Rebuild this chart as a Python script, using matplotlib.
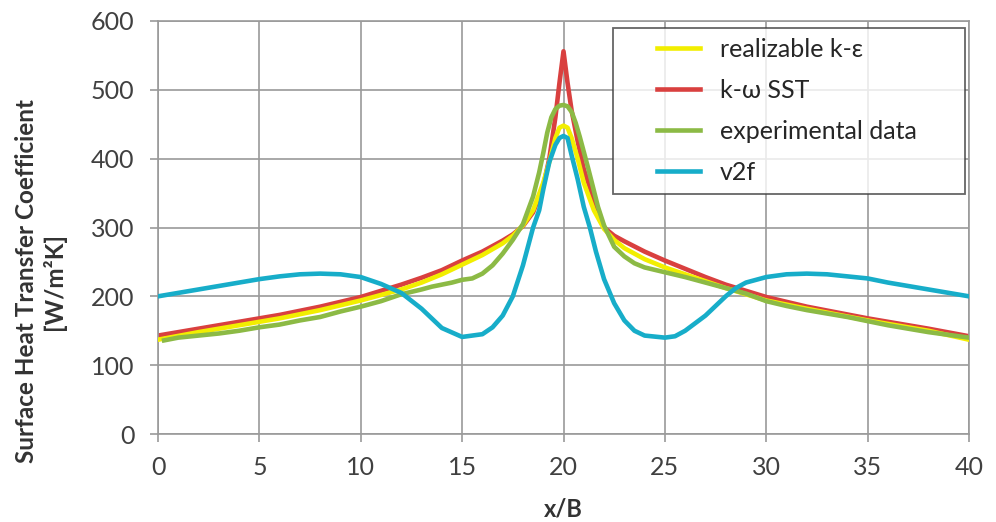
import matplotlib
matplotlib.use("Agg")
import matplotlib.pyplot as plt
from matplotlib.legend_handler import HandlerLine2D

plt.rcParams['font.family'] = ['Lato', 'DejaVu Sans']

# realizable k-eps
x_rke = [0, 2, 4, 5, 6, 8, 10, 12, 13, 14, 15, 16, 17, 17.5, 18, 18.5, 19, 19.3, 19.6, 19.8, 20,
         20.2, 20.4, 20.7, 21, 21.5, 22, 22.5, 23, 24, 25, 26, 27, 28, 30, 32, 35, 38, 40]
y_rke = [137, 148, 158, 163, 168, 180, 194, 210, 220, 232, 246, 260, 277, 288, 303, 325, 365, 395, 430, 445, 448,
         445, 430, 400, 365, 325, 298, 282, 270, 254, 242, 232, 222, 212, 194, 182, 165, 150, 137]

# k-omega SST
x_sst = [0, 2, 4, 5, 6, 8, 10, 12, 13, 14, 15, 16, 17, 17.5, 18, 18.5, 19, 19.3, 19.6, 19.8, 20,
         20.2, 20.4, 20.7, 21, 21.5, 22, 22.5, 23, 24, 25, 26, 27, 28, 30, 32, 35, 38, 40]
y_sst = [143, 153, 163, 168, 173, 185, 199, 217, 227, 238, 252, 265, 281, 290, 302, 322, 360, 400, 460, 510, 556,
         510, 470, 425, 385, 340, 300, 288, 280, 265, 252, 240, 228, 217, 199, 185, 168, 153, 142]

# experimental
x_exp = [0.3, 1, 2, 3, 4, 5, 6, 7, 8, 9, 10, 11, 12, 13, 13.5, 14, 14.5, 15, 15.5, 16, 16.5, 17, 17.5, 18,
         18.5, 18.8, 19, 19.2, 19.4, 19.6, 19.8, 20, 20.2, 20.4, 20.6, 20.8, 21, 21.2, 21.4, 21.7, 22, 22.5,
         23, 23.5, 24, 25, 26, 27, 28, 29, 30, 31, 32, 33, 34, 35, 36, 37, 38, 39, 40]
y_exp = [136, 140, 143, 146, 150, 155, 159, 165, 170, 178, 185, 193, 203, 210, 214, 217, 220, 224, 226, 233,
         245, 262, 282, 305, 345, 380, 408, 438, 460, 472, 477, 478, 476, 468, 452, 432, 410, 388, 365, 330,
         303, 272, 258, 248, 242, 235, 228, 220, 212, 204, 193, 186, 180, 175, 170, 164, 158, 153, 148, 144, 140]

# v2f
x_v2f = [0, 1, 2, 3, 4, 5, 6, 7, 8, 9, 10, 11, 12, 13, 14, 15, 16, 16.5, 17, 17.5, 18, 18.5, 18.8, 19,
         19.3, 19.6, 19.8, 20, 20.2, 20.4, 20.7, 21, 21.3, 21.6, 22, 22.5, 23, 23.5, 24, 25, 25.5, 26, 27,
         28, 28.5, 29, 30, 31, 32, 33, 34, 35, 36, 37, 38, 39, 40]
y_v2f = [200, 205, 210, 215, 220, 225, 229, 232, 233, 232, 228, 218, 205, 182, 154, 141, 145, 155, 172, 200,
         245, 300, 325, 355, 395, 420, 430, 433, 430, 405, 370, 330, 300, 265, 225, 190, 165, 150, 143, 140,
         142, 150, 172, 200, 212, 220, 228, 232, 233, 232, 229, 226, 220, 215, 210, 205, 200]

x_ticks = [0, 5, 10, 15, 20, 25, 30, 35, 40]
y_ticks = [0, 100, 200, 300, 400, 500, 600]

fig = plt.figure(figsize=(9.96, 5.22), dpi=100)
ax = fig.add_axes([158 / 996, 88 / 522, 811 / 996, 413 / 522])

ax.plot(x_rke, y_rke, color='#f2ee00', lw=3.3, label='realizable k-ε', zorder=3)
ax.plot(x_sst, y_sst, color='#d9403f', lw=3.3, label='k-ω SST', zorder=2)
ax.plot(x_exp, y_exp, color='#8cba45', lw=3.3, label='experimental data', zorder=4)
ax.plot(x_v2f, y_v2f, color='#17adc9', lw=3.3, label='v2f', zorder=5)

ax.set_xlim(0, 40)
ax.set_ylim(0, 600)
ax.set_xticks(x_ticks)
ax.set_yticks(y_ticks)
ax.grid(True, color='#9a9a9a', lw=1.2)
ax.set_axisbelow(True)
for s in ax.spines.values():
    s.set_color('#9a9a9a')
    s.set_linewidth(1.2)
ax.tick_params(colors='#9a9a9a', labelcolor='#404040', labelsize=18, length=6, width=1.2)
ax.tick_params(axis='x', pad=10)
ax.tick_params(axis='y', pad=11)

ax.set_xlabel('x/B', fontsize=17, fontweight='bold', color='#333333', labelpad=13)
fig.text(41 / 996, 0.461, 'Surface Heat Transfer Coefficient\n[W/m²K]', rotation=90,
         ha='center', va='center', multialignment='center', fontsize=17.5,
         fontweight='bold', color='#333333')

leg = ax.legend(loc='upper left', bbox_to_anchor=(0.561, 0.586, 0.434, 0.397), mode='expand',
                borderaxespad=0, fontsize=18, frameon=True, fancybox=False, edgecolor='#404040',
                handlelength=3.08, handletextpad=0.8, labelspacing=0.72, borderpad=0.4,
                handler_map={plt.Line2D: HandlerLine2D(xpad=1.36)})
leg.get_frame().set_linewidth(1.3)
for t in leg.get_texts():
    t.set_color('#262626')

fig.savefig('out.png', dpi=100)
